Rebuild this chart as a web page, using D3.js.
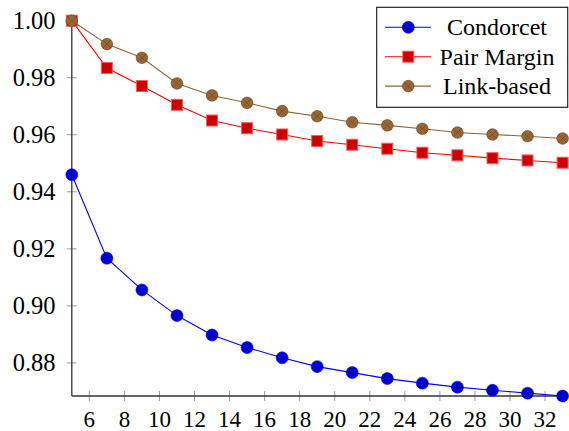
<!DOCTYPE html>
<html>
<head>
<meta charset="utf-8">
<script src="https://cdn.jsdelivr.net/npm/d3@7"></script>
<style>
  body { margin: 0; background: #fff; }
  svg { display: block; }
</style>
</head>
<body>
<div id="chart"></div>
<script>
// data
var xs = [5, 7, 9, 11, 13, 15, 17, 19, 21, 23, 25, 27, 29, 31, 33];
var condorcet = [0.946, 0.9167, 0.9056, 0.8966, 0.8898, 0.8854, 0.8818, 0.8787, 0.8766, 0.8745, 0.8729, 0.8715, 0.8704, 0.8694, 0.8684];
var pairMargin = [1.0, 0.9834, 0.9771, 0.9705, 0.9650, 0.9623, 0.9601, 0.9578, 0.9565, 0.9551, 0.9537, 0.9528, 0.9518, 0.9510, 0.9502];
var linkBased = [1.0, 0.9918, 0.9870, 0.9780, 0.9738, 0.9712, 0.9683, 0.9665, 0.9644, 0.9633, 0.9621, 0.9608, 0.9601, 0.9595, 0.9587];
var seriesNames = ["Condorcet", "Pair Margin", "Link-based"];
var xTicks = [6, 8, 10, 12, 14, 16, 18, 20, 22, 24, 26, 28, 30, 32];
var yTicks = [0.88, 0.90, 0.92, 0.94, 0.96, 0.98, 1.00];

var serif = "'Liberation Serif', 'DejaVu Serif', 'Noto Serif', 'Times New Roman', Times, 'Nimbus Roman', FreeSerif, serif";
var width = 569, height = 431;
var svg = d3.select("#chart").append("svg")
    .attr("width", width).attr("height", height)
    .style("font-family", serif);

var x = d3.scaleLinear().domain([5, 33]).range([71.8, 562.6]);
var y = d3.scaleLinear().domain([0.8684, 1.0]).range([396, 20.7]);

var series = [
    {name: seriesNames[0], values: condorcet, line: "#0000ff", fill: "#0000cc", mark: "circle"},
    {name: seriesNames[1], values: pairMargin, line: "#ff0000", fill: "#cc0000", mark: "square"},
    {name: seriesNames[2], values: linkBased, line: "#8f6336", fill: "#996633", mark: "otimes"}
];

// arrow for axis ends
svg.append("defs").append("marker")
    .attr("id", "arrow")
    .attr("viewBox", "0 0 10 10")
    .attr("refX", 9).attr("refY", 5)
    .attr("markerWidth", 7).attr("markerHeight", 7)
    .attr("markerUnits", "userSpaceOnUse")
    .attr("orient", "auto")
  .append("path")
    .attr("d", "M1,1 Q5,5 9,5 Q5,5 1,9")
    .attr("fill", "none").attr("stroke", "#222").attr("stroke-width", 1.3);

// ticks
var g = svg.append("g");
g.selectAll(".xtick").data(xTicks).enter().append("line")
    .attr("x1", function(d) { return x(d); }).attr("x2", function(d) { return x(d); })
    .attr("y1", 391).attr("y2", 401)
    .attr("stroke", "#9a9a9a").attr("stroke-width", 1);
g.selectAll(".ytick").data(yTicks).enter().append("line")
    .attr("x1", 66.8).attr("x2", 76.8)
    .attr("y1", function(d) { return y(d); }).attr("y2", function(d) { return y(d); })
    .attr("stroke", "#9a9a9a").attr("stroke-width", 1);

g.selectAll(".xlab").data(xTicks).enter().append("text")
    .attr("x", function(d) { return x(d); })
    .attr("y", 427)
    .attr("text-anchor", "middle")
    .style("font-family", serif)
    .attr("font-size", 23)
    .text(function(d) { return d; });
g.selectAll(".ylab").data(yTicks).enter().append("text")
    .attr("x", 55.5)
    .attr("y", function(d) { return y(d); })
    .attr("dy", "0.35em")
    .attr("text-anchor", "end")
    .style("font-family", serif)
    .attr("font-size", 24.5)
    .text(function(d) { return d3.format(".2f")(d); });

// axis lines
g.append("line")
    .attr("x1", x(5)).attr("x2", x(33))
    .attr("y1", y.range()[0]).attr("y2", y.range()[0])
    .attr("stroke", "#333").attr("stroke-width", 1.3)
    .attr("marker-end", "url(#arrow)");
g.append("line")
    .attr("x1", x(5)).attr("x2", x(5))
    .attr("y1", y.range()[0]).attr("y2", y.range()[1])
    .attr("stroke", "#333").attr("stroke-width", 1.3)
    .attr("marker-end", "url(#arrow)");

function drawMark(sel, s, cx, cy) {
    if (s.mark === "circle") {
        sel.append("circle").attr("cx", cx).attr("cy", cy).attr("r", 6)
            .attr("fill", s.fill).attr("stroke", s.line).attr("stroke-width", 0.6);
    } else if (s.mark === "square") {
        sel.append("rect").attr("x", cx - 5.5).attr("y", cy - 5.5)
            .attr("width", 11).attr("height", 11)
            .attr("fill", s.fill).attr("stroke", "#ff5a5a").attr("stroke-width", 1);
    } else {
        sel.append("circle").attr("cx", cx).attr("cy", cy).attr("r", 5.8)
            .attr("fill", s.fill).attr("stroke", "#5a3c1e").attr("stroke-width", 0.6);
        var d = 5.8 * Math.SQRT1_2;
        sel.append("path")
            .attr("d", "M" + (cx - d) + "," + (cy - d) + "L" + (cx + d) + "," + (cy + d) +
                       "M" + (cx - d) + "," + (cy + d) + "L" + (cx + d) + "," + (cy - d))
            .attr("stroke", "#6b4826").attr("stroke-width", 0.7);
    }
}

var line = d3.line()
    .x(function(d) { return x(d[0]); })
    .y(function(d) { return y(d[1]); });

series.forEach(function(s) {
    var pts = xs.map(function(v, i) { return [v, s.values[i]]; });
    var sg = svg.append("g");
    sg.append("path").datum(pts)
        .attr("d", line)
        .attr("fill", "none").attr("stroke", s.line).attr("stroke-width", 1.1);
    pts.forEach(function(p) { drawMark(sg, s, x(p[0]), y(p[1])); });
});

// legend
var lg = svg.append("g");
lg.append("rect")
    .attr("x", 376.7).attr("y", 7.3).attr("width", 191).attr("height", 100)
    .attr("fill", "#fff").attr("stroke", "#222").attr("stroke-width", 1.2);
series.forEach(function(s, i) {
    var cy = 27.3 + i * 29.4;
    lg.append("line").attr("x1", 385).attr("x2", 431).attr("y1", cy).attr("y2", cy)
        .attr("stroke", s.line).attr("stroke-width", 1.1);
    drawMark(lg, s, 408.3, cy);
    lg.append("text")
        .attr("x", 497).attr("y", cy).attr("dy", "0.34em")
        .attr("text-anchor", "middle")
        .style("font-family", serif).attr("font-size", 24)
        .text(s.name);
});
</script>
</body>
</html>
